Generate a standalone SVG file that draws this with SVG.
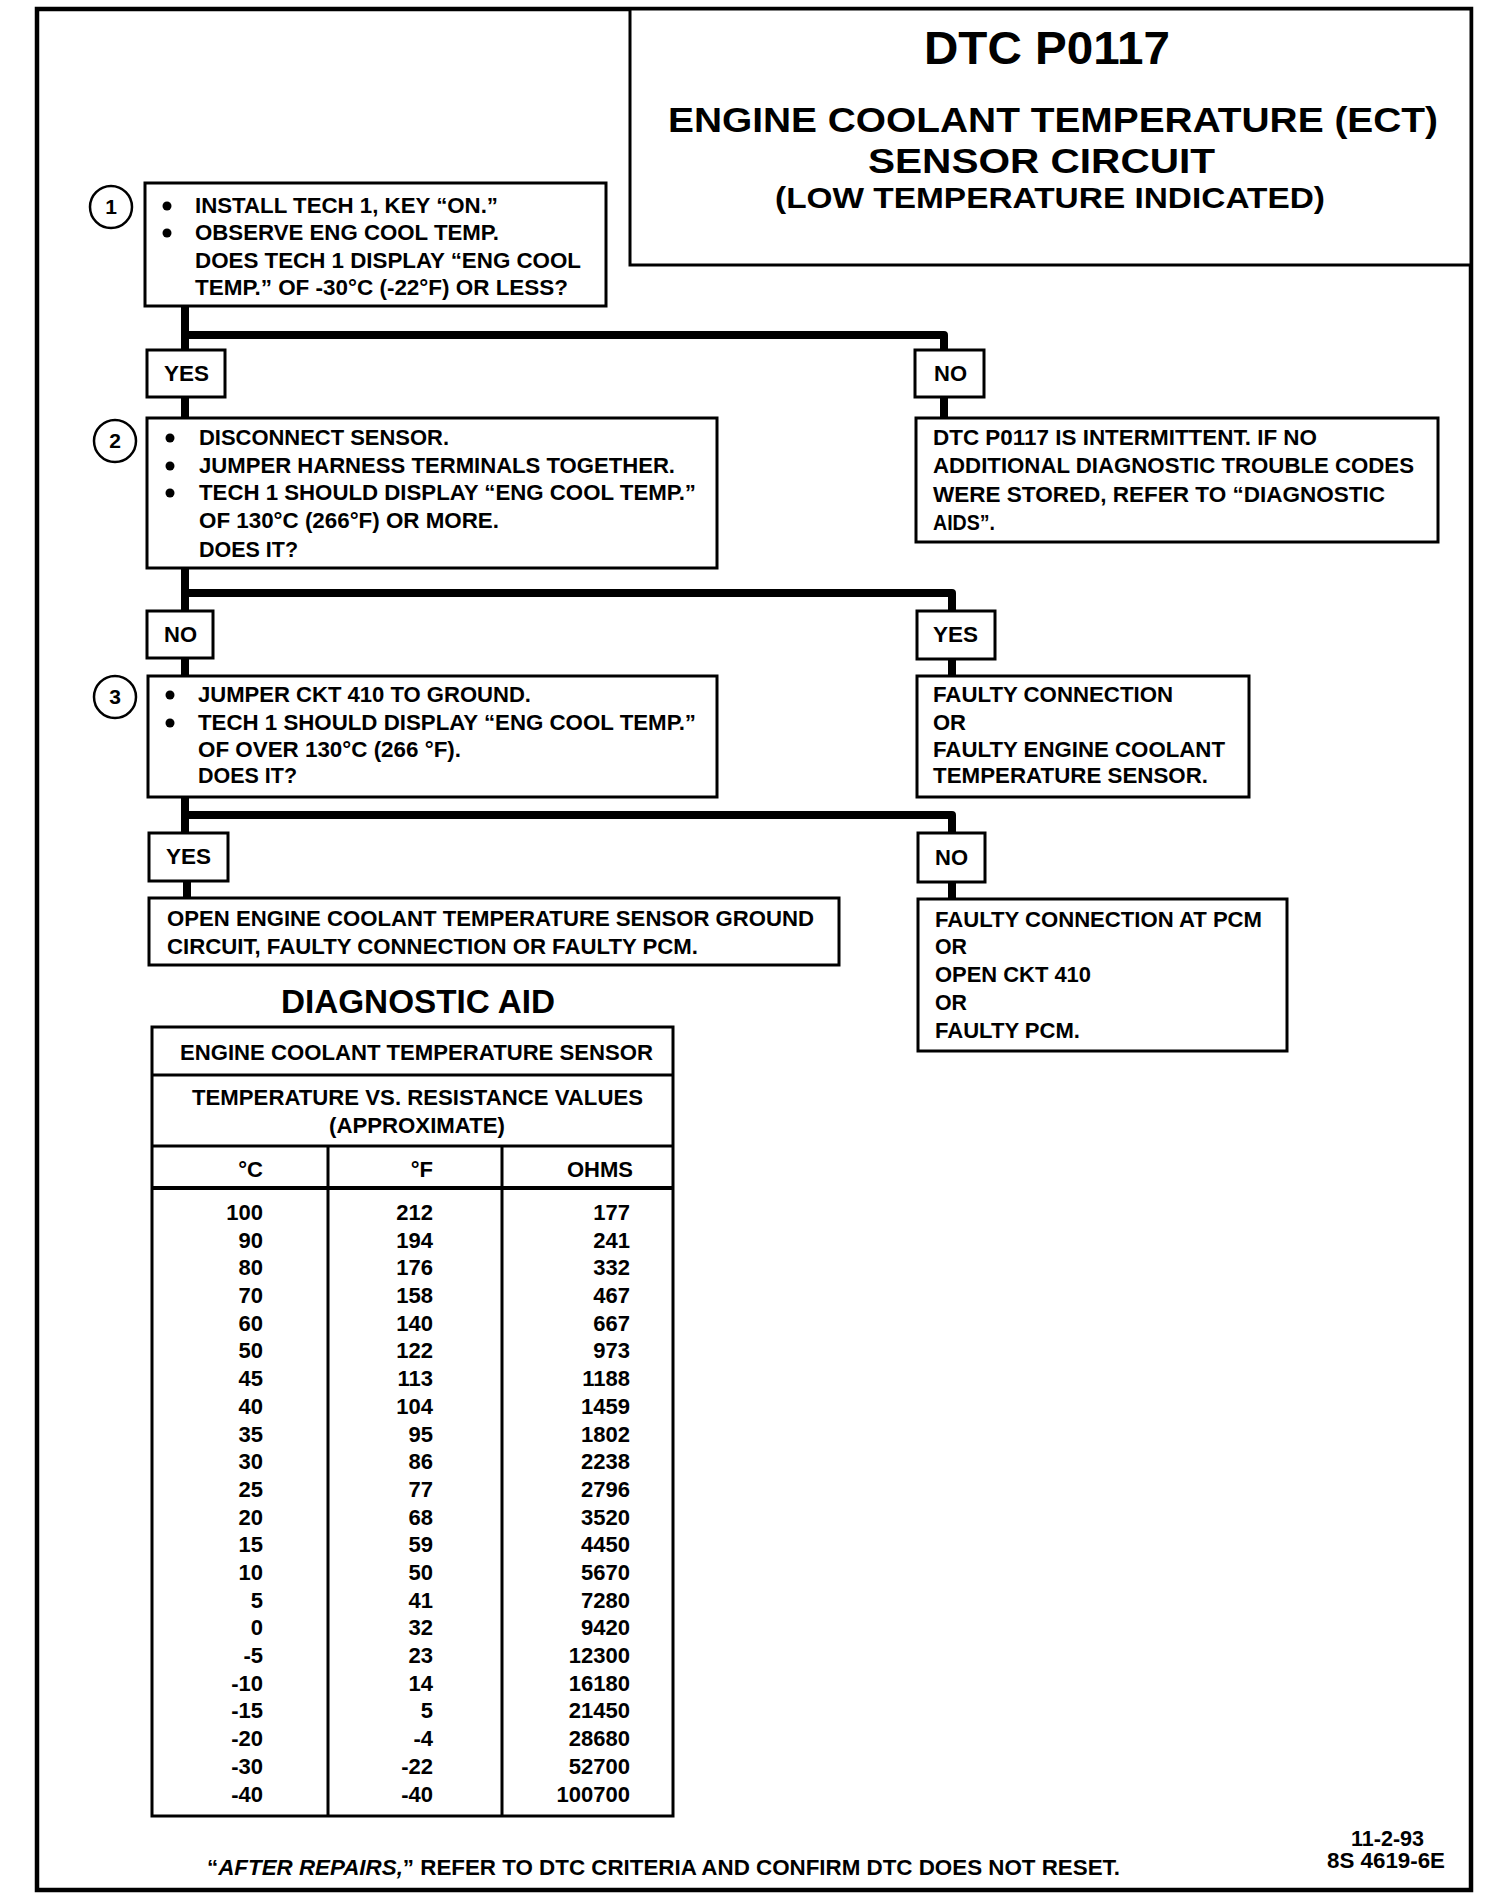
<svg xmlns="http://www.w3.org/2000/svg" width="1504" height="1900" viewBox="0 0 1504 1900">
<style>
text{font-family:"Liberation Sans",Arial,Helvetica,sans-serif;font-weight:bold;fill:#000}
.t{font-size:22px}
.lbl{font-size:22px}
.n{font-size:22px;text-anchor:end}
.box{fill:#fff;stroke:#000;stroke-width:3}
.frame{fill:none;stroke:#000;stroke-width:4.5}
.conn{fill:none;stroke:#000;stroke-width:8;stroke-linejoin:round}
.num{fill:#fff;stroke:#000;stroke-width:2.5}
.numt{font-size:21px;text-anchor:middle}
.line{stroke:#000;stroke-width:3}
</style>
<rect id="page-frame" class="frame" x="37" y="9" width="1434" height="1881"/>
<g id="title">
<rect class="box" x="630" y="9" width="841" height="256"/>
<text x="924" y="64" font-size="46" textLength="246" lengthAdjust="spacingAndGlyphs">DTC P0117</text>
<text x="668" y="132" font-size="35" textLength="770" lengthAdjust="spacingAndGlyphs">ENGINE COOLANT TEMPERATURE (ECT)</text>
<text x="868" y="173" font-size="35" textLength="347" lengthAdjust="spacingAndGlyphs">SENSOR CIRCUIT</text>
<text x="775" y="208" font-size="30" textLength="550" lengthAdjust="spacingAndGlyphs">(LOW TEMPERATURE INDICATED)</text>
</g>
<g id="connectors">
<path class="conn" d="M185 306V350M185 335H944V350M185 397V418M944 397V418"/>
<path class="conn" d="M185 568V611M185 593H952V611M185 658V676M952 659V676"/>
<path class="conn" d="M185 797V833M185 815H952V833M187 881V898M952 882V899"/>
</g>
<g id="step1">
<circle class="num" cx="111" cy="207" r="21"/><text class="numt" x="111" y="214">1</text>
<rect class="box" x="145" y="183" width="461" height="123"/>
<circle cx="167" cy="206" r="4.5"/><circle cx="167" cy="233" r="4.5"/>
<text class="t" x="195" y="213" textLength="303" lengthAdjust="spacingAndGlyphs">INSTALL TECH 1, KEY “ON.”</text>
<text class="t" x="195" y="240" textLength="304" lengthAdjust="spacingAndGlyphs">OBSERVE ENG COOL TEMP.</text>
<text class="t" x="195" y="268" textLength="386" lengthAdjust="spacingAndGlyphs">DOES TECH 1 DISPLAY “ENG COOL</text>
<text class="t" x="195" y="295" textLength="373" lengthAdjust="spacingAndGlyphs">TEMP.” OF -30°C (-22°F) OR LESS?</text>
</g>
<g id="yes1"><rect class="box" x="147" y="350" width="78" height="47"/><text class="lbl" x="164" y="381" textLength="45" lengthAdjust="spacingAndGlyphs">YES</text></g>
<g id="no1"><rect class="box" x="915" y="350" width="69" height="47"/><text class="lbl" x="934" y="381" textLength="33" lengthAdjust="spacingAndGlyphs">NO</text></g>
<g id="step2">
<circle class="num" cx="115" cy="441" r="21"/><text class="numt" x="115" y="448">2</text>
<rect class="box" x="147" y="418" width="570" height="150"/>
<circle cx="170" cy="438" r="4.5"/><circle cx="170" cy="466" r="4.5"/><circle cx="170" cy="493" r="4.5"/>
<text class="t" x="199" y="445" textLength="250" lengthAdjust="spacingAndGlyphs">DISCONNECT SENSOR.</text>
<text class="t" x="199" y="473" textLength="476" lengthAdjust="spacingAndGlyphs">JUMPER HARNESS TERMINALS TOGETHER.</text>
<text class="t" x="199" y="500" textLength="497" lengthAdjust="spacingAndGlyphs">TECH 1 SHOULD DISPLAY “ENG COOL TEMP.”</text>
<text class="t" x="199" y="528" textLength="300" lengthAdjust="spacingAndGlyphs">OF 130°C (266°F) OR MORE.</text>
<text class="t" x="199" y="557" textLength="99" lengthAdjust="spacingAndGlyphs">DOES IT?</text>
</g>
<g id="intermittent">
<rect class="box" x="916" y="418" width="522" height="124"/>
<text class="t" x="933" y="445" textLength="384" lengthAdjust="spacingAndGlyphs">DTC P0117 IS INTERMITTENT.  IF NO</text>
<text class="t" x="933" y="473" textLength="481" lengthAdjust="spacingAndGlyphs">ADDITIONAL DIAGNOSTIC TROUBLE CODES</text>
<text class="t" x="933" y="502" textLength="452" lengthAdjust="spacingAndGlyphs">WERE STORED,  REFER TO “DIAGNOSTIC</text>
<text class="t" x="933" y="530" textLength="62" lengthAdjust="spacingAndGlyphs">AIDS”.</text>
</g>
<g id="no2"><rect class="box" x="147" y="611" width="66" height="47"/><text class="lbl" x="164" y="642" textLength="33" lengthAdjust="spacingAndGlyphs">NO</text></g>
<g id="yes2"><rect class="box" x="917" y="611" width="78" height="48"/><text class="lbl" x="933" y="642" textLength="45" lengthAdjust="spacingAndGlyphs">YES</text></g>
<g id="step3">
<circle class="num" cx="115" cy="697" r="21"/><text class="numt" x="115" y="704">3</text>
<rect class="box" x="148" y="676" width="569" height="121"/>
<circle cx="170" cy="695" r="4.5"/><circle cx="170" cy="723" r="4.5"/>
<text class="t" x="198" y="702" textLength="333" lengthAdjust="spacingAndGlyphs">JUMPER CKT 410 TO GROUND.</text>
<text class="t" x="198" y="730" textLength="498" lengthAdjust="spacingAndGlyphs">TECH 1 SHOULD DISPLAY “ENG COOL TEMP.”</text>
<text class="t" x="198" y="757" textLength="263" lengthAdjust="spacingAndGlyphs">OF OVER 130°C (266 °F).</text>
<text class="t" x="198" y="783" textLength="99" lengthAdjust="spacingAndGlyphs">DOES IT?</text>
</g>
<g id="faulty-sensor">
<rect class="box" x="917" y="676" width="332" height="121"/>
<text class="t" x="933" y="702" textLength="240" lengthAdjust="spacingAndGlyphs">FAULTY CONNECTION</text>
<text class="t" x="933" y="730" textLength="33" lengthAdjust="spacingAndGlyphs">OR</text>
<text class="t" x="933" y="757" textLength="292" lengthAdjust="spacingAndGlyphs">FAULTY ENGINE COOLANT</text>
<text class="t" x="933" y="783" textLength="275" lengthAdjust="spacingAndGlyphs">TEMPERATURE SENSOR.</text>
</g>
<g id="yes3"><rect class="box" x="149" y="833" width="79" height="48"/><text class="lbl" x="166" y="864" textLength="45" lengthAdjust="spacingAndGlyphs">YES</text></g>
<g id="no3"><rect class="box" x="918" y="833" width="67" height="49"/><text class="lbl" x="935" y="865" textLength="33" lengthAdjust="spacingAndGlyphs">NO</text></g>
<g id="open-ground">
<rect class="box" x="149" y="898" width="690" height="67"/>
<text class="t" x="167" y="926" textLength="647" lengthAdjust="spacingAndGlyphs">OPEN ENGINE COOLANT TEMPERATURE SENSOR GROUND</text>
<text class="t" x="167" y="954" textLength="531" lengthAdjust="spacingAndGlyphs">CIRCUIT, FAULTY CONNECTION OR FAULTY PCM.</text>
</g>
<g id="faulty-pcm">
<rect class="box" x="918" y="899" width="369" height="152"/>
<text class="t" x="935" y="927" textLength="327" lengthAdjust="spacingAndGlyphs">FAULTY CONNECTION AT PCM</text>
<text class="t" x="935" y="954" textLength="32" lengthAdjust="spacingAndGlyphs">OR</text>
<text class="t" x="935" y="982" textLength="156" lengthAdjust="spacingAndGlyphs">OPEN CKT 410</text>
<text class="t" x="935" y="1010" textLength="32" lengthAdjust="spacingAndGlyphs">OR</text>
<text class="t" x="935" y="1038" textLength="145" lengthAdjust="spacingAndGlyphs">FAULTY PCM.</text>
</g>
<g id="diagnostic-aid">
<text x="281" y="1013" font-size="33" textLength="274" lengthAdjust="spacingAndGlyphs">DIAGNOSTIC AID</text>
<rect class="box" x="152" y="1027" width="521" height="789"/>
<line class="line" x1="152" y1="1075" x2="673" y2="1075"/>
<line class="line" x1="152" y1="1146" x2="673" y2="1146"/>
<line x1="152" y1="1188" x2="673" y2="1188" stroke="#000" stroke-width="4"/>
<line class="line" x1="328" y1="1146" x2="328" y2="1816"/>
<line class="line" x1="502" y1="1146" x2="502" y2="1816"/>
<text class="t" x="180" y="1060" textLength="473" lengthAdjust="spacingAndGlyphs">ENGINE COOLANT TEMPERATURE SENSOR</text>
<text class="t" x="192" y="1105" textLength="451" lengthAdjust="spacingAndGlyphs">TEMPERATURE VS. RESISTANCE VALUES</text>
<text class="t" x="329" y="1133" textLength="176" lengthAdjust="spacingAndGlyphs">(APPROXIMATE)</text>
<text class="n" x="263" y="1177">°C</text>
<text class="n" x="433" y="1177">°F</text>
<text class="n" x="633" y="1177">OHMS</text>
<g id="col-c">
<text class="n" x="263" y="1220">100</text><text class="n" x="263" y="1248">90</text><text class="n" x="263" y="1275">80</text><text class="n" x="263" y="1303">70</text><text class="n" x="263" y="1331">60</text><text class="n" x="263" y="1358">50</text><text class="n" x="263" y="1386">45</text><text class="n" x="263" y="1414">40</text><text class="n" x="263" y="1442">35</text><text class="n" x="263" y="1469">30</text><text class="n" x="263" y="1497">25</text><text class="n" x="263" y="1525">20</text><text class="n" x="263" y="1552">15</text><text class="n" x="263" y="1580">10</text><text class="n" x="263" y="1608">5</text><text class="n" x="263" y="1635">0</text><text class="n" x="263" y="1663">-5</text><text class="n" x="263" y="1691">-10</text><text class="n" x="263" y="1718">-15</text><text class="n" x="263" y="1746">-20</text><text class="n" x="263" y="1774">-30</text><text class="n" x="263" y="1802">-40</text>
</g>
<g id="col-f">
<text class="n" x="433" y="1220">212</text><text class="n" x="433" y="1248">194</text><text class="n" x="433" y="1275">176</text><text class="n" x="433" y="1303">158</text><text class="n" x="433" y="1331">140</text><text class="n" x="433" y="1358">122</text><text class="n" x="433" y="1386">113</text><text class="n" x="433" y="1414">104</text><text class="n" x="433" y="1442">95</text><text class="n" x="433" y="1469">86</text><text class="n" x="433" y="1497">77</text><text class="n" x="433" y="1525">68</text><text class="n" x="433" y="1552">59</text><text class="n" x="433" y="1580">50</text><text class="n" x="433" y="1608">41</text><text class="n" x="433" y="1635">32</text><text class="n" x="433" y="1663">23</text><text class="n" x="433" y="1691">14</text><text class="n" x="433" y="1718">5</text><text class="n" x="433" y="1746">-4</text><text class="n" x="433" y="1774">-22</text><text class="n" x="433" y="1802">-40</text>
</g>
<g id="col-ohms">
<text class="n" x="630" y="1220">177</text><text class="n" x="630" y="1248">241</text><text class="n" x="630" y="1275">332</text><text class="n" x="630" y="1303">467</text><text class="n" x="630" y="1331">667</text><text class="n" x="630" y="1358">973</text><text class="n" x="630" y="1386">1188</text><text class="n" x="630" y="1414">1459</text><text class="n" x="630" y="1442">1802</text><text class="n" x="630" y="1469">2238</text><text class="n" x="630" y="1497">2796</text><text class="n" x="630" y="1525">3520</text><text class="n" x="630" y="1552">4450</text><text class="n" x="630" y="1580">5670</text><text class="n" x="630" y="1608">7280</text><text class="n" x="630" y="1635">9420</text><text class="n" x="630" y="1663">12300</text><text class="n" x="630" y="1691">16180</text><text class="n" x="630" y="1718">21450</text><text class="n" x="630" y="1746">28680</text><text class="n" x="630" y="1774">52700</text><text class="n" x="630" y="1802">100700</text>
</g>
</g>
<g id="footer">
<text class="t" x="207" y="1875" textLength="913" lengthAdjust="spacingAndGlyphs">“<tspan font-style="italic">AFTER REPAIRS,</tspan>” REFER TO DTC CRITERIA AND CONFIRM DTC DOES NOT RESET.</text>
<text class="t" x="1351" y="1846" textLength="73" lengthAdjust="spacingAndGlyphs">11-2-93</text>
<text class="t" x="1327" y="1868" textLength="118" lengthAdjust="spacingAndGlyphs">8S 4619-6E</text>
</g>
</svg>
